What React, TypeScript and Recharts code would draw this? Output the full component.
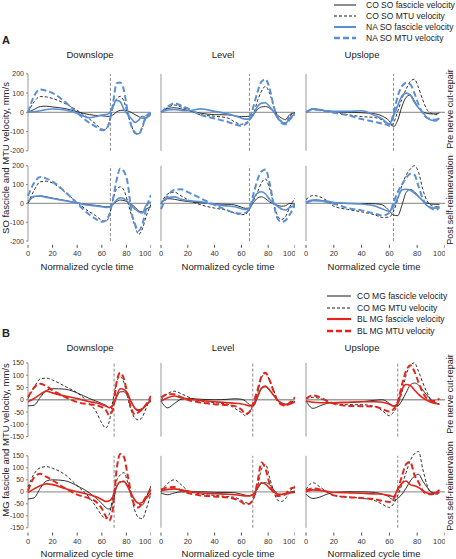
import { LineChart, Line, XAxis, YAxis, ReferenceLine } from 'recharts'

// normalized cycle time grid (denser around push-off)
const X = [0, 5, 10, 15, 20, 30, 40, 50, 55, 60, 63, 66, 69, 72, 75, 78, 81, 84, 87, 90, 93, 96, 100]
const X_TICKS = [0, 20, 40, 60, 80, 100]
const SO_TICKS = [-200, -100, 0, 100, 200]
const MG_TICKS = [-150, -100, -50, 0, 50, 100, 150]
const SLOPES = ['Downslope', 'Level', 'Upslope']

// A: soleus, pre nerve cut-repair
const soDownPreCoFas = [0, 15, 30, 32, 28, 20, 3, -12, -16, -18, -20, -21, -14, 2, 10, 11, 7, 0, -12, -22, -30, -30, -10]
const soDownPreCoMtu = [0, 55, 82, 80, 72, 46, 10, -35, -60, -87, -88, -50, 20, 70, 83, 58, -10, -65, -110, -112, -80, -30, -12]
const soDownPreNaFas = [0, 3, 8, 15, 17, 12, -5, -28, -22, -14, -12, -5, 30, 62, 55, 15, -10, -32, -52, -40, -20, -28, -5]
const soDownPreNaMtu = [0, 85, 119, 112, 100, 55, -3, -55, -74, -93, -90, -55, 40, 150, 155, 115, 5, -70, -105, -115, -75, -20, -3]

const soLevelPreCoFas = [0, 20, 24, 18, 10, -5, -12, -13, -18, -22, -22, -20, -10, 15, 28, 30, 22, 3, -15, -30, -38, -12, -3]
const soLevelPreCoMtu = [0, 25, 38, 28, 15, -14, -20, -30, -50, -62, -55, -40, -10, 60, 110, 135, 100, 35, -20, -45, -55, -20, -3]
const soLevelPreNaFas = [0, 12, 15, 10, 8, 18, 5, -8, -18, -30, -35, -35, -12, 30, 48, 50, 30, 5, -30, -50, -58, -30, -10]
const soLevelPreNaMtu = [0, 30, 47, 35, 20, -14, -32, -50, -62, -70, -62, -35, 30, 105, 160, 172, 125, 35, -25, -55, -62, -38, -10]

const soUpPreCoFas = [0, 18, 12, 8, 4, 0, -2, -8, -20, -45, -75, -40, 30, 78, 90, 60, 22, 2, -5, -8, -8, -3, null]
const soUpPreCoMtu = [0, 18, 14, 8, 2, -12, -22, -28, -40, -72, -55, 5, 70, 120, 160, 172, 127, 65, 15, -5, -12, -12, null]
const soUpPreNaFas = [0, 18, 14, 8, 5, 5, 8, -18, -35, -60, -20, 35, 85, 100, 90, 52, 23, 0, -28, -40, -45, -30, null]
const soUpPreNaMtu = [0, 15, 12, 5, -2, -15, -35, -50, -60, -65, -5, 85, 135, 152, 145, 100, 40, -5, -28, -35, -38, -30, null]

// A: soleus, post self-reinnervation
const soDownPostCoFas = [5, 35, 40, 35, 28, 16, 3, -7, -10, -15, -18, -18, -5, 10, 18, 15, 8, -5, -20, -40, -45, -30, -18]
const soDownPostCoMtu = [0, 70, 115, 118, 108, 60, 5, -45, -65, -90, -95, -70, 20, 75, 88, 70, 10, -60, -120, -165, -135, -70, -5]
const soDownPostNaFas = [10, 38, 38, 32, 26, 14, 2, -10, -13, -18, -21, -20, -5, 18, 30, 25, 10, -12, -30, -45, -52, -10, 8]
const soDownPostNaMtu = [40, 110, 140, 132, 116, 62, 0, -60, -82, -98, -92, -60, 20, 123, 185, 170, 110, -40, -110, -145, -110, -30, 45]

const soLevelPostCoFas = [0, 25, 22, 15, 10, 3, -3, -5, -8, -20, -26, -25, 5, 28, 35, 25, 8, -2, -10, -15, -12, 0, -5]
const soLevelPostCoMtu = [0, 50, 60, 40, 20, -8, -25, -38, -52, -60, -58, -30, 15, 60, 110, 130, 80, 0, -65, -85, -70, -20, 28]
const soLevelPostNaFas = [5, 30, 35, 22, 15, 8, -6, -14, -18, -28, -32, -28, 25, 55, 62, 50, 22, 0, -15, -30, -35, -22, -10]
const soLevelPostNaMtu = [-30, 40, 72, 75, 60, 25, -8, -38, -50, -54, -50, -28, 50, 125, 170, 180, 110, 0, -80, -98, -90, -60, -10]

const soUpPostCoFas = [0, 18, 15, 10, 5, 0, 0, -2, -8, -40, -62, -65, -10, 58, 74, 62, 38, 12, 2, -3, -5, -5, null]
const soUpPostCoMtu = [20, 42, 35, 15, -15, -32, -45, -62, -75, -72, -40, 20, 95, 150, 182, 200, 165, 75, 15, -10, -18, -15, null]
const soUpPostNaFas = [0, 15, 15, 12, 5, 0, -3, -15, -30, -42, -15, 30, 72, 75, 70, 55, 35, 15, -12, -22, -25, -15, null]
const soUpPostNaMtu = [5, 18, 15, 8, -2, -25, -37, -55, -65, -50, 5, 60, 100, 135, 158, 152, 90, 25, -10, -25, -35, -20, null]

// B: medial gastrocnemius, pre nerve cut-repair
const mgDownPreCoFas = [-25, -22, 10, 38, 45, 43, 28, 5, -5, -15, -22, -32, -25, 10, 32, 33, 15, -10, -35, -40, -35, -22, 0]
const mgDownPreCoMtu = [5, 50, 85, 88, 80, 55, 28, -15, -45, -95, -115, -90, -5, 70, 95, 70, 10, -45, -75, -82, -70, -35, 15]
const mgDownPreBlFas = [-8, 5, 22, 35, 28, 15, 5, -8, -12, -20, -25, -32, -22, 15, 45, 42, 25, -10, -35, -45, -38, -20, -5]
const mgDownPreBlMtu = [10, 50, 65, 55, 38, 12, -10, -18, -22, -30, -40, -62, -40, 70, 110, 85, 20, -35, -60, -50, -38, -20, 15]

const mgLevelPreCoFas = [-5, -33, -15, 2, 5, 2, 0, 2, 4, 2, -5, -20, -25, 8, 45, 52, 38, 20, 0, -12, -18, -15, -8]
const mgLevelPreCoMtu = [0, 25, 35, 25, 12, -5, -12, -18, -35, -52, -65, -50, -20, 25, 90, 106, 80, 40, 0, -15, -20, -12, -3]
const mgLevelPreBlFas = [-5, 8, 15, 8, 3, -3, -8, -12, -14, -17, -20, -25, -20, 15, 48, 56, 40, 18, -2, -15, -20, -18, -8]
const mgLevelPreBlMtu = [10, 22, 22, 10, 0, -12, -18, -22, -26, -40, -58, -50, -10, 40, 95, 110, 80, 35, -5, -20, -25, -12, 10]

const mgUpPreCoFas = [-5, -35, -25, -15, -12, -12, -8, -2, 0, -15, -25, -25, -3, 28, 60, 68, 60, 40, 18, 0, -12, -18, null]
const mgUpPreCoMtu = [5, 10, 5, -5, -15, -20, -20, -28, -45, -65, -50, -20, 30, 100, 140, 150, 115, 70, 30, 0, -12, -18, null]
const mgUpPreBlFas = [-5, -10, -12, -12, -12, -10, -8, -8, -10, -18, -26, -15, 40, 62, 58, 40, 22, 8, -2, -10, -15, -18, null]
const mgUpPreBlMtu = [5, 18, 10, -5, -15, -25, -26, -28, -38, -48, -38, -8, 60, 117, 140, 115, 70, 30, 5, -5, -5, 5, null]

// B: medial gastrocnemius, post self-reinnervation
const mgDownPostCoFas = [-30, -25, 15, 45, 50, 46, 25, -5, -25, -48, -65, -72, -45, 20, 40, 45, 25, -10, -35, -50, -55, -25, 25]
const mgDownPostCoMtu = [20, 75, 100, 105, 98, 72, 25, -25, -60, -98, -112, -95, -20, 45, 70, 80, 40, -20, -80, -108, -112, -75, -5]
const mgDownPostBlFas = [-3, 12, 25, 33, 30, 14, 0, -12, -20, -32, -40, -38, -20, 22, 42, 42, 22, -10, -35, -48, -45, -28, -5]
const mgDownPostBlMtu = [5, 60, 75, 62, 48, 15, -12, -28, -40, -70, -100, -120, -70, 90, 158, 145, 70, -10, -60, -65, -45, -20, 10]

const mgLevelPostCoFas = [-5, -12, -5, 0, 0, 0, -2, -3, -4, -10, -14, -16, -10, 12, 35, 38, 30, 10, -8, -12, -10, -2, 3]
const mgLevelPostCoMtu = [0, 35, 50, 30, 5, -10, -15, -20, -23, -35, -45, -48, -30, 20, 95, 115, 60, 5, -35, -40, -28, 0, 25]
const mgLevelPostBlFas = [5, 10, 12, 8, 3, -5, -8, -10, -12, -15, -17, -17, -10, 18, 38, 32, 15, 0, -10, -10, -8, -5, -3]
const mgLevelPostBlMtu = [10, 18, 20, 5, -5, -15, -20, -24, -30, -42, -52, -50, -25, 40, 122, 95, 35, -3, -18, -15, -10, 12, 18]

const mgUpPostCoFas = [-10, -28, -22, -10, -3, 0, 0, -3, -10, -22, -36, -28, -10, 15, 45, 65, 73, 45, 20, 0, -5, -5, null]
const mgUpPostCoMtu = [10, 38, 20, 0, -15, -22, -27, -38, -52, -65, -50, -15, 30, 80, 130, 158, 168, 95, 30, -5, -10, -8, null]
const mgUpPostBlFas = [0, 8, 6, 2, -2, -4, -6, -9, -10, -15, -20, 10, 35, 45, 30, 25, 18, 5, -5, -8, -5, -2, null]
const mgUpPostBlMtu = [5, 14, 10, 0, -15, -22, -26, -32, -38, -42, -30, 10, 65, 115, 125, 70, 40, 5, -8, -10, -6, 8, null]

// foot-contact markers
const soPreVlines = [67, 66, 63]
const soPostVlines = [67, 66, 63]
const mgPreVlines = [70, 68.5, 66]
const mgPostVlines = [70, 68.5, 66]

const BLUE = '#5b8fd4'
const RED = '#e3261d'
const INK = '#1a1a1a'
const FONT = "'Liberation Sans', Arial, sans-serif"
const NARROW = "'Liberation Sans Narrow', 'Arial Narrow', 'Liberation Sans', sans-serif"

const COLS = [{ left: 28, w: 123 }, { left: 161, w: 134 }, { left: 306, w: 139 }]

type Row = { hiPx: number; loPx: number; hi: number; lo: number; pad: number }
const ROW_SO_PRE: Row = { hiPx: 74, loPx: 151, hi: 200, lo: -200, pad: 20 }
const ROW_SO_POST: Row = { hiPx: 165.7, loPx: 241, hi: 200, lo: -200, pad: 20 }
const ROW_MG_PRE: Row = { hiPx: 363.3, loPx: 437, hi: 150, lo: -150, pad: 20 }
const ROW_MG_POST: Row = { hiPx: 455.3, loPx: 527.3, hi: 150, lo: -150, pad: 20 }

type PanelProps = {
  col: number
  row: Row
  yTicks: number[]
  series: (number | null)[][]
  vline: number
  color: string
  bottom?: boolean
}

function Panel({ col, row, yTicks, series, vline, color, bottom }: PanelProps) {
  const { left, w } = COLS[col]
  const s = (row.loPx - row.hiPx) / (row.hi - row.lo)
  const top = row.hiPx - row.pad * s
  const h = (row.hi - row.lo + 2 * row.pad) * s
  const yW = col === 0 ? 26 : 4
  const xH = bottom ? 20 : 0
  const data = X.map((x, i) => ({
    x,
    coFas: series[0][i],
    coMtu: series[1][i],
    exFas: series[2][i],
    exMtu: series[3][i],
  }))
  return (
    <div style={{ position: 'absolute', left: left - yW, top }}>
      <LineChart width={w + yW} height={h + xH} data={data} margin={{ top: 0, right: 0, bottom: 0, left: 0 }}>
        <XAxis
          dataKey="x" type="number" domain={[0, 100]} ticks={X_TICKS} hide={!bottom} height={xH}
          axisLine={false} tickSize={3} tickMargin={3} tickLine={{ stroke: '#555' }}
          tick={{ fontSize: 7.5, fill: '#333', fontFamily: FONT }}
        />
        <YAxis
          type="number" domain={[row.lo - row.pad, row.hi + row.pad]} ticks={yTicks} interval={0} width={yW}
          axisLine={false} tickSize={2} tickMargin={2}
          tickLine={col === 0 ? { stroke: '#888' } : false}
          tick={col === 0 ? { fontSize: 7, fill: '#333', fontFamily: FONT } : false}
        />
        <ReferenceLine segment={[{ x: 0, y: row.lo }, { x: 0, y: row.hi }]} stroke="#999" strokeWidth={1} />
        <ReferenceLine y={0} stroke="#9c9c9c" strokeWidth={1.3} />
        <ReferenceLine segment={[{ x: vline, y: row.lo }, { x: vline, y: row.hi }]} stroke="#8a8a8a" strokeDasharray="3 2" />
        <Line dataKey="coFas" type="monotone" stroke={INK} strokeWidth={0.9} dot={false} isAnimationActive={false} />
        <Line dataKey="coMtu" type="monotone" stroke={INK} strokeWidth={0.9} strokeDasharray="3 2" dot={false} isAnimationActive={false} />
        <Line dataKey="exFas" type="monotone" stroke={color} strokeWidth={1.6} dot={false} isAnimationActive={false} />
        <Line dataKey="exMtu" type="monotone" stroke={color} strokeWidth={2} strokeDasharray="6 3" dot={false} isAnimationActive={false} />
      </LineChart>
    </div>
  )
}

type TextProps = { x: number; y: number; size: number; text: string; rotate?: boolean; bold?: boolean; start?: boolean; family?: string }

function Txt({ x, y, size, text, rotate, bold, start, family }: TextProps) {
  return (
    <div style={{
      position: 'absolute', left: x, top: y, whiteSpace: 'nowrap', lineHeight: 1,
      fontSize: size, fontWeight: bold ? 700 : 400, color: '#222', fontFamily: family ?? FONT,
      transform: start ? 'translate(0,-50%)' : `translate(-50%,-50%)${rotate ? ' rotate(-90deg)' : ''}`,
    }}>{text}</div>
  )
}

type KeyProps = { x0: number; x1: number; tx: number; y: number; color: string; width: number; dash?: string; label: string }

function Key({ x0, x1, tx, y, color, width, dash, label }: KeyProps) {
  return (
    <>
      <svg style={{ position: 'absolute', left: x0, top: y - 3 }} width={x1 - x0} height={6}>
        <line x1={0} x2={x1 - x0} y1={3} y2={3} stroke={color} strokeWidth={width} strokeDasharray={dash} />
      </svg>
      <Txt x={tx} y={y} size={8.5} text={label} start family={NARROW} />
    </>
  )
}

export default function App() {
  const soPre = [
    [soDownPreCoFas, soDownPreCoMtu, soDownPreNaFas, soDownPreNaMtu],
    [soLevelPreCoFas, soLevelPreCoMtu, soLevelPreNaFas, soLevelPreNaMtu],
    [soUpPreCoFas, soUpPreCoMtu, soUpPreNaFas, soUpPreNaMtu],
  ]
  const soPost = [
    [soDownPostCoFas, soDownPostCoMtu, soDownPostNaFas, soDownPostNaMtu],
    [soLevelPostCoFas, soLevelPostCoMtu, soLevelPostNaFas, soLevelPostNaMtu],
    [soUpPostCoFas, soUpPostCoMtu, soUpPostNaFas, soUpPostNaMtu],
  ]
  const mgPre = [
    [mgDownPreCoFas, mgDownPreCoMtu, mgDownPreBlFas, mgDownPreBlMtu],
    [mgLevelPreCoFas, mgLevelPreCoMtu, mgLevelPreBlFas, mgLevelPreBlMtu],
    [mgUpPreCoFas, mgUpPreCoMtu, mgUpPreBlFas, mgUpPreBlMtu],
  ]
  const mgPost = [
    [mgDownPostCoFas, mgDownPostCoMtu, mgDownPostBlFas, mgDownPostBlMtu],
    [mgLevelPostCoFas, mgLevelPostCoMtu, mgLevelPostBlFas, mgLevelPostBlMtu],
    [mgUpPostCoFas, mgUpPostCoMtu, mgUpPostBlFas, mgUpPostBlMtu],
  ]
  const titleX = [90, 223, 362]
  const xLabelX = [87, 228, 374]

  return (
    <div style={{ position: 'absolute', left: 0, top: 0, width: 456, height: 559, background: '#fff', overflow: 'hidden' }}>
      {/* legend A */}
      <Key x0={334} x1={356} tx={366} y={4.5} color={INK} width={1} label="CO SO fascicle velocity" />
      <Key x0={334} x1={356} tx={366} y={15.5} color={INK} width={1} dash="3 2" label="CO SO MTU velocity" />
      <Key x0={334} x1={356} tx={366} y={26.5} color={BLUE} width={2} label="NA SO fascicle velocity" />
      <Key x0={334} x1={356} tx={366} y={37.5} color={BLUE} width={2.5} dash="6 3" label="NA SO MTU velocity" />
      {/* legend B */}
      <Key x0={327} x1={351} tx={357} y={296} color={INK} width={1} label="CO MG fascicle velocity" />
      <Key x0={327} x1={351} tx={357} y={307.5} color={INK} width={1} dash="3 2" label="CO MG MTU velocity" />
      <Key x0={327} x1={351} tx={357} y={319} color={RED} width={2.2} label="BL MG fascicle velocity" />
      <Key x0={327} x1={351} tx={357} y={330.5} color={RED} width={2.6} dash="6 3" label="BL MG MTU velocity" />

      <Txt x={6} y={40} size={11} text="A" bold />
      <Txt x={6} y={333} size={11} text="B" bold />

      {SLOPES.map((t, i) => <Txt key={'ta' + t} x={titleX[i]} y={55} size={9.5} text={t} />)}
      {SLOPES.map((t, i) => <Txt key={'tb' + t} x={titleX[i]} y={348} size={9.5} text={t} />)}

      {[0, 1, 2].map(c => (
        <div key={'a' + c}>
          <Panel col={c} row={ROW_SO_PRE} yTicks={SO_TICKS} series={soPre[c]} vline={soPreVlines[c]} color={BLUE} />
          <Panel col={c} row={ROW_SO_POST} yTicks={SO_TICKS} series={soPost[c]} vline={soPostVlines[c]} color={BLUE} bottom />
          <Panel col={c} row={ROW_MG_PRE} yTicks={MG_TICKS} series={mgPre[c]} vline={mgPreVlines[c]} color={RED} />
          <Panel col={c} row={ROW_MG_POST} yTicks={MG_TICKS} series={mgPost[c]} vline={mgPostVlines[c]} color={RED} bottom />
          <Txt x={xLabelX[c]} y={267} size={9.5} text="Normalized cycle time" />
          <Txt x={xLabelX[c]} y={554} size={9.5} text="Normalized cycle time" />
        </div>
      ))}

      <Txt x={6} y={158} size={9.5} text="SO fascicle and MTU velocity, mm/s" rotate />
      <Txt x={6} y={440} size={9.5} text="MG fascicle and MTU velocity, mm/s" rotate />
      <Txt x={450} y={109} size={9} text="Pre nerve cut-repair" rotate />
      <Txt x={450} y={200} size={9} text="Post self-reinnervation" rotate />
      <Txt x={450} y={394} size={9} text="Pre nerve cut-repair" rotate />
      <Txt x={450} y={486} size={9} text="Post self-reinnervation" rotate />
    </div>
  )
}
